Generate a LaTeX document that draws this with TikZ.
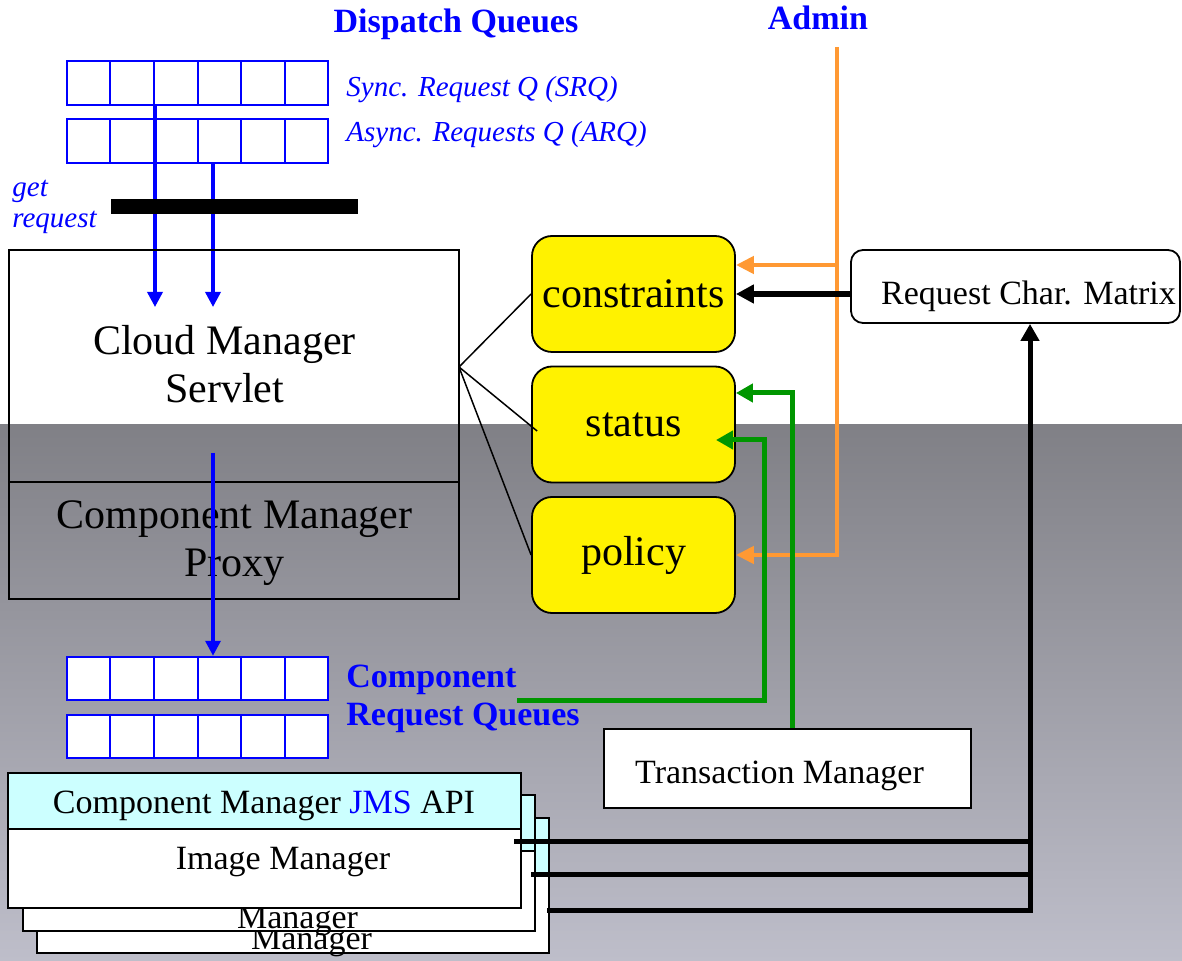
\documentclass[tikz,border=0pt]{standalone}
\usepackage{fontspec}
\setmainfont{Liberation Serif}
\usetikzlibrary{arrows.meta,calc}

\definecolor{orangeline}{RGB}{255,153,51}
\definecolor{greenline}{RGB}{0,150,0}
\definecolor{apicyan}{RGB}{204,255,255}
\definecolor{bgtop}{RGB}{128,128,134}
\definecolor{bgbot}{RGB}{190,190,202}

\tikzset{
  heading/.style={inner sep=0pt, text=blue, font=\bfseries\fontsize{17}{20}\selectfont},
  qlabel/.style={inner sep=0pt, text=blue, font=\itshape\fontsize{14.5}{17}\selectfont},
  bigtext/.style={inner sep=0pt, font=\fontsize{21}{25}\selectfont},
  midtext/.style={inner sep=0pt, font=\fontsize{17}{20}\selectfont},
  qbox/.style={draw=blue, line width=1pt, fill=white, minimum width=130.5pt,
    minimum height=21.75pt, inner sep=0pt},
  qline/.style={blue, line width=1pt},
  plainbox/.style={draw=black, line width=0.9pt, inner sep=0pt},
  ybox/.style={draw=black, line width=0.9pt, fill=yellow, rounded corners=10pt,
    minimum width=101.5pt, minimum height=58pt, inner sep=0pt,
    font=\fontsize{21}{25}\selectfont},
  bluearrow/.style={blue, line width=1.7pt, -{Triangle[length=7.5pt,width=7.5pt]}},
  orangearrow/.style={orangeline, line width=2.3pt, -{Triangle[length=9pt,width=8.5pt]}},
  greenarrow/.style={greenline, line width=2.5pt, -{Triangle[length=8.5pt,width=9pt]}},
  blackarrow/.style={black, line width=3pt, -{Triangle[length=9pt,width=9pt]}},
  busline/.style={black, line width=2.5pt, line join=miter},
  hubline/.style={black, line width=0.75pt},
}

\begin{document}
\begin{tikzpicture}[x=0.5pt,y=-0.5pt]
\useasboundingbox (0,0) rectangle (1182,961);

% backdrop: white upper band, grey gradient below
\fill[white] (0,0) rectangle (1182,425);
\shade[top color=bgtop,bottom color=bgbot] (0,425) rectangle (1182,961);

% headings
\node[heading, anchor=base] (dq) at (456,33) {Dispatch Queues};
\node[heading, anchor=base] (admin) at (818,30) {Admin};

% dispatch queues
\node[qbox] (srq) at (197.5,83) {};
\node[qbox] (arq) at (197.5,141) {};
\node[qbox] (cq1) at (197.5,678.5) {};
\node[qbox] (cq2) at (197.5,736.5) {};
\foreach \q in {srq,arq,cq1,cq2}
  \foreach \k in {1,...,5}
    \draw[qline] ($(\q.north west)!\k/6!(\q.north east)$) -- ($(\q.south west)!\k/6!(\q.south east)$);

\node[qlabel, anchor=base west] (srqlabel) at (346,97) {Sync. Request Q (SRQ)};
\node[qlabel, anchor=base west] (arqlabel) at (346,142) {Async. Requests Q (ARQ)};
\node[qlabel, anchor=base west] (getlabel) at (12,197) {get};
\node[qlabel, anchor=base west] (reqlabel) at (12,228) {request};

% requests taken from the queues
\coordinate (tipA) at (155,307);
\coordinate (tipB) at (213,307);
\draw[bluearrow] (srq.south -| tipA) -- (tipA);
\draw[bluearrow] (arq.south -| tipB) -- (tipB);
\node[fill=black, minimum width=123.5pt, minimum height=7.5pt, inner sep=0pt] (bar) at (234.5,206.5) {};

% servlet and proxy
\node[plainbox, minimum width=225pt, minimum height=116pt] (servlet) at (234,366) {};
\node[bigtext, anchor=base] (servletA) at (224.5,355) {Cloud Manager};
\node[bigtext, anchor=base] (servletB) at (224.5,403) {Servlet};
\node[plainbox, minimum width=225pt, minimum height=58.5pt] (proxy) at (234,540.5) {};
\node[bigtext, anchor=base] (proxyA) at (234.5,529) {Component Manager};
\node[bigtext, anchor=base] (proxyB) at (234.5,577) {Proxy};

\coordinate (proxyout) at (213,453);
\draw[bluearrow] (proxyout) -- (proxyout |- cq1.north);

% component request queue label
\node[heading, anchor=base west] (cqA) at (346,687) {Component};
\node[heading, anchor=base west] (cqB) at (346,725) {Request Queues};

% constraint / status / policy stores
\node[ybox] (constraints) at (633.5,294) {constraints};
\node[ybox] (status) at (633.5,424.5) {status};
\node[ybox] (policy) at (633.5,555) {policy};

\coordinate (hub) at (459,367);
\draw[hubline] (hub) -- (constraints.west);
\draw[hubline] (hub) -- ($(status.west)+(6,6.5)$);
\draw[hubline] (hub) -- (policy.west);

% admin feeds
\coordinate (adminline) at (837,47);
\coordinate (adminbranch) at (837,265);
\draw[orangearrow] (adminline) -- (adminline |- policy.east) -- (policy.east);
\draw[orangearrow] (adminbranch) -- (adminbranch -| constraints.east);

% request characteristics matrix
\node[plainbox, fill=white, rounded corners=6pt, minimum width=164.5pt, minimum height=36.5pt] (rcm) at (1015.5,286.5) {};
\node[midtext, anchor=base] (rcmtext) at (1028.5,305) {Request Char. Matrix};
\draw[blackarrow] (rcm.west |- constraints.east) -- (constraints.east);

% transaction manager
\node[plainbox, fill=white, minimum width=183.5pt, minimum height=39.5pt] (tm) at (787.5,768.5) {};
\node[midtext, anchor=base] (tmtext) at (779.5,783) {Transaction Manager};

% status updates
\coordinate (gA) at (792,393);
\draw[greenarrow] (gA |- tm.north) -- (gA) -- (gA -| status.east);
\coordinate (gStart) at (517,700);
\coordinate (gCorner) at (764,440);
\coordinate (gTip) at (716,440);
\draw[greenarrow] (gStart) -| (gCorner) -- (gTip);

% stacked component managers (back to front)
\node[plainbox, fill=white, minimum width=256pt, minimum height=67.5pt] (mgrC) at (293,885.5) {};
\node[plainbox, fill=apicyan, minimum width=256pt, minimum height=28pt, anchor=north] (apiC) at (mgrC.north) {};
\node[midtext, anchor=base] (mgrCtext) at (311.5,949) {Manager};

\node[plainbox, fill=white, minimum width=256pt, minimum height=68pt] (mgrB) at (279,863) {};
\node[plainbox, fill=apicyan, minimum width=256pt, minimum height=28pt, anchor=north] (apiB) at (mgrB.north) {};
\node[midtext, anchor=base] (mgrBtext) at (297.5,928) {Manager};

\node[plainbox, fill=white, minimum width=256.5pt, minimum height=67.5pt] (img) at (264.5,840.5) {};
\node[plainbox, fill=apicyan, minimum width=256.5pt, minimum height=28pt, anchor=north] (jms) at (img.north) {};
\node[midtext, anchor=base] (jmstext) at (264,813) {Component Manager {\color{blue}JMS} API};
\node[midtext, anchor=base] (imgtext) at (283,869) {Image Manager};

% characteristics reported back to the matrix
\coordinate (busA) at (514,841);
\coordinate (busB) at (531,874);
\coordinate (busC) at (547,910);
\coordinate (busCorner) at (1030,910);
\draw[busline] (busA) -- (busA -| busCorner);
\draw[busline] (busB) -- (busB -| busCorner);
\draw[busline, -{Triangle[length=8.5pt,width=9pt]}] (busC) -- (busCorner) -- (busCorner |- rcm.south);

\end{tikzpicture}
\end{document}
